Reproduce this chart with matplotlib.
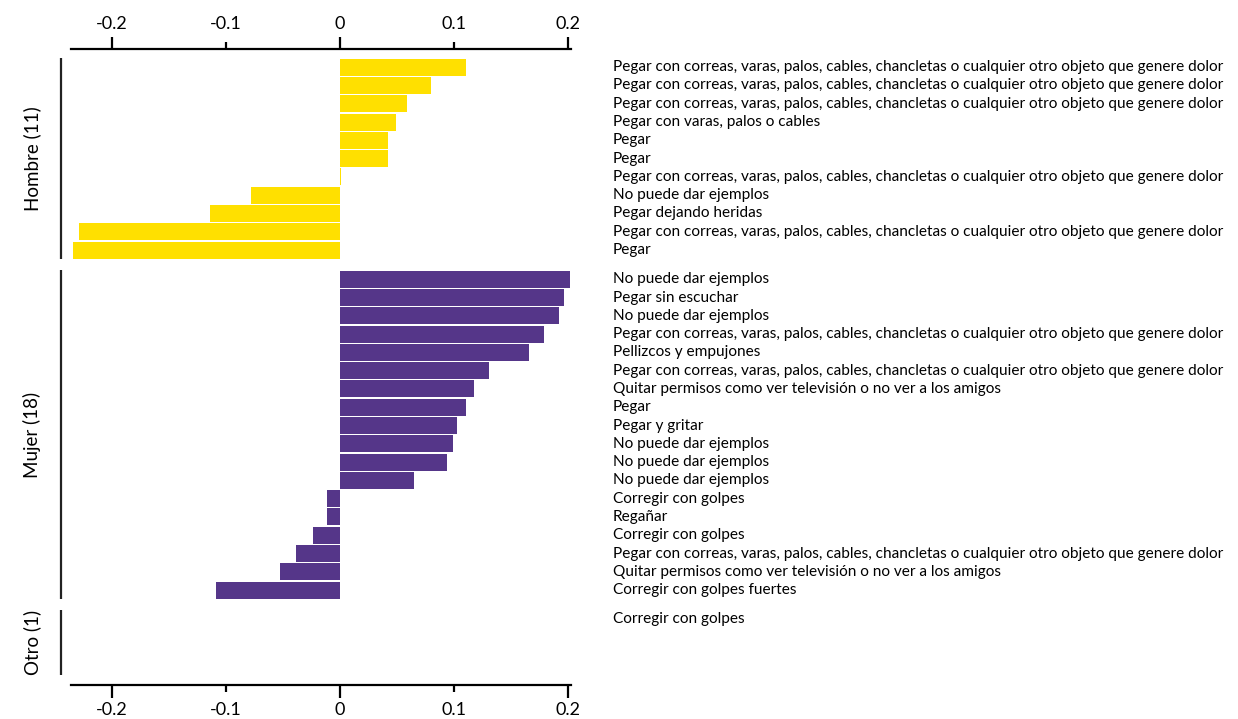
import matplotlib
matplotlib.use("Agg")
import matplotlib.pyplot as plt
import matplotlib.transforms as mtransforms

plt.rcParams['font.family'] = ['Lato', 'DejaVu Sans']

LARGO = "Pegar con correas, varas, palos, cables, chancletas o cualquier otro objeto que genere dolor"
QUITAR = "Quitar permisos como ver televisión o no ver a los amigos"

# grupos
groups = ["Hombre (11)", "Mujer (18)", "Otro (1)"]
group_colors = ["#FFE000", "#553689", "#553689"]

hombre_labels = [LARGO, LARGO, LARGO, "Pegar con varas, palos o cables", "Pegar", "Pegar",
                 LARGO, "No puede dar ejemplos", "Pegar dejando heridas", LARGO, "Pegar"]
hombre_values = [0.1107, 0.080, 0.059, 0.049, 0.042, 0.042, 0.001,
                 -0.078, -0.1145, -0.229, -0.234]

mujer_labels = ["No puede dar ejemplos", "Pegar sin escuchar", "No puede dar ejemplos", LARGO,
                "Pellizcos y empujones", LARGO, QUITAR, "Pegar", "Pegar y gritar",
                "No puede dar ejemplos", "No puede dar ejemplos", "No puede dar ejemplos",
                "Corregir con golpes", "Regañar", "Corregir con golpes", LARGO, QUITAR,
                "Corregir con golpes fuertes"]
mujer_values = [0.202, 0.197, 0.192, 0.179, 0.166, 0.131, 0.118, 0.111, 0.103,
                0.099, 0.094, 0.065, -0.0118, -0.0118, -0.024, -0.0386, -0.0524, -0.109]

otro_labels = ["Corregir con golpes"]
otro_values = [0.0]

all_labels = [hombre_labels, mujer_labels, otro_labels]
all_values = [hombre_values, mujer_values, otro_values]

fig = plt.figure(figsize=(12.38, 7.19), dpi=100)
ax = fig.add_axes([0.0574, 0.047, 0.4036, 0.885])

gap = 0.6
text_tr = mtransforms.blended_transform_factory(fig.transFigure, ax.transData)
line_tr = mtransforms.blended_transform_factory(ax.transAxes, ax.transData)

top = 0.0
for gi, (name, labels, vals) in enumerate(zip(groups, all_labels, all_values)):
    ys = [top + i + 0.5 for i in range(len(vals))]
    ax.barh(ys, vals, height=0.93, color=group_colors[gi], edgecolor='none')
    for y, lab in zip(ys, labels):
        ax.text(0.495, y, lab, transform=text_tr, ha='left', va='center',
                fontsize=11.1, clip_on=False)
    span = len(vals) if len(vals) > 1 else 3.55
    bottom = top + span
    ax.plot([-0.02, -0.02], [top, bottom], transform=line_tr, color='#222222',
            lw=1.6, clip_on=False, solid_capstyle='butt')
    ax.text(-0.078, (top + bottom) / 2, name, transform=line_tr, rotation=90,
            ha='center', va='center', fontsize=13.5)
    top = top + len(vals) + gap

ax.set_ylim(34.3, -0.5)
ax.set_xlim(-0.236, 0.2025)

ax.set_xticks([-0.2, -0.1, 0, 0.1, 0.2])
ax.set_xticklabels(['-0.2', '-0.1', '0', '0.1', '0.2'])
ax.tick_params(axis='x', top=True, labeltop=True, bottom=True, labelbottom=True,
               direction='out', length=9, width=1.6, labelsize=13, pad=3)
for t in ax.xaxis.get_major_ticks():
    if t.get_loc() in (-0.1, 0.1):
        t.tick1line.set_color('#aaaaaa')
        t.tick2line.set_color('#aaaaaa')
        t.tick1line.set_markersize(5)
        t.tick2line.set_markersize(5)
ax.set_yticks([])
for s in ['left', 'right']:
    ax.spines[s].set_visible(False)
for s in ['top', 'bottom']:
    ax.spines[s].set_linewidth(1.6)

fig.savefig("out.png", dpi=100)
